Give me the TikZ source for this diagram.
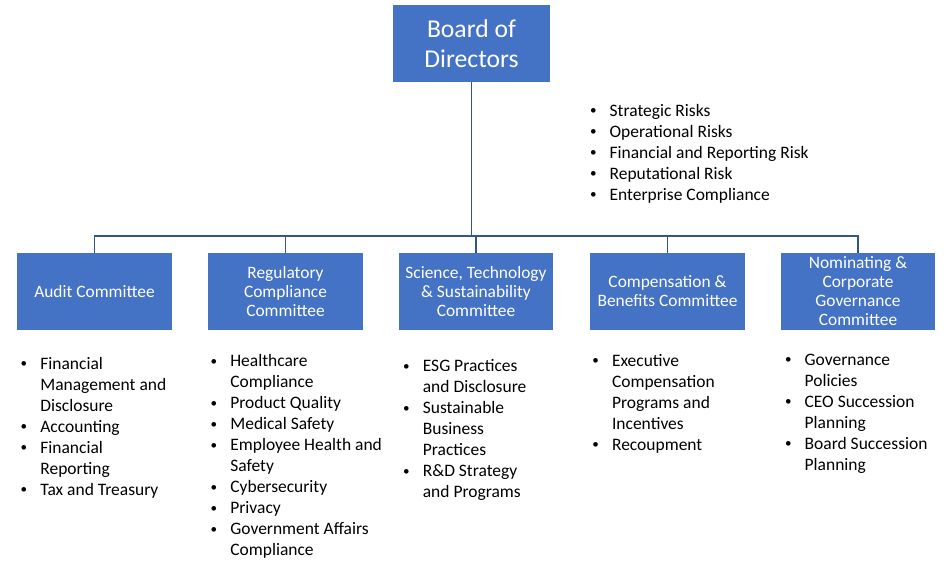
\documentclass[tikz,border=0pt]{standalone}
\usepackage{fontspec}
\setmainfont{Carlito}
\usetikzlibrary{positioning}
\definecolor{boxblue}{RGB}{68,114,196}
\definecolor{linkblue}{RGB}{52,84,140}

% bullet item and its continuation lines
\newcommand{\duty}[1]{\makebox[11.67pt][l]{\hspace{0.5pt}\raisebox{0.6pt}{\scalebox{0.75}{\textbullet}}}#1}
\newcommand{\wrap}[1]{\hspace*{11.67pt}#1}

\begin{document}
\begin{tikzpicture}[x=0.02cm, y=-0.02cm,
  board/.style={fill=boxblue, text=white, minimum width=3.14cm, minimum height=1.54cm, inner sep=1pt, align=center, font=\fontsize{14.6}{17.1}\selectfont},
  committee/.style={fill=boxblue, text=white, minimum width=3.1cm, minimum height=1.54cm, inner sep=1pt, align=center, font=\fontsize{9.9}{10.8}\selectfont},
  duties/.style={anchor=base west, inner sep=0pt, align=left, font=\fontsize{9.95}{11.95}\selectfont},
  link/.style={draw=linkblue, line width=0.8pt}
]
  \useasboundingbox (0,0) rectangle (951,562);

  % Board
  \node[board] (bod) at (471.5,43.5) {Board of\\Directors};

  % Committees
  \node[committee] (audit) at (94.5,291.5) {Audit Committee};
  \node[committee] (reg) at (285.5,291.5) {Regulatory\\Compliance\\Committee};
  \node[committee] (sci) at (476,291.5) {Science, Technology\\\& Sustainability\\Committee};
  \node[committee] (comp) at (667.5,291.5) {Compensation \&\\Benefits Committee};
  \node[committee] (nom) at (858,291.5) {Nominating \&\\Corporate\\Governance\\Committee};

  % Connectors
  \coordinate (bus) at (471.5,236);
  \draw[link] (bod.south) -- (bus);
  \foreach \c in {audit,reg,sci,comp,nom}
    \draw[link] (bus) -| (\c.north);

  % Board risks (placed at the last baseline)
  \node[duties] (risks) at (588.8,200) {\duty{Strategic Risks}\\\duty{Operational Risks}\\\duty{Financial and Reporting Risk}\\\duty{Reputational Risk}\\\duty{Enterprise Compliance}};

  % Committee duties
  \node[duties] (auditlist) at (19.5,495) {\duty{Financial}\\\wrap{Management and}\\\wrap{Disclosure}\\\duty{Accounting}\\\duty{Financial}\\\wrap{Reporting}\\\duty{Tax and Treasury}};
  \node[duties] (reglist) at (209.5,555.7) {\duty{Healthcare}\\\wrap{Compliance}\\\duty{Product Quality}\\\duty{Medical Safety}\\\duty{Employee Health and}\\\wrap{Safety}\\\duty{Cybersecurity}\\\duty{Privacy}\\\duty{Government Affairs}\\\wrap{Compliance}};
  \node[duties] (scilist) at (402,497.7) {\duty{ESG Practices}\\\wrap{and Disclosure}\\\duty{Sustainable}\\\wrap{Business}\\\wrap{Practices}\\\duty{R\&D Strategy}\\\wrap{and Programs}};
  \node[duties] (complist) at (591.2,450) {\duty{Executive}\\\wrap{Compensation}\\\wrap{Programs and}\\\wrap{Incentives}\\\duty{Recoupment}};
  \node[duties] (nomlist) at (783.8,470) {\duty{Governance}\\\wrap{Policies}\\\duty{CEO Succession}\\\wrap{Planning}\\\duty{Board Succession}\\\wrap{Planning}};
\end{tikzpicture}
\end{document}
